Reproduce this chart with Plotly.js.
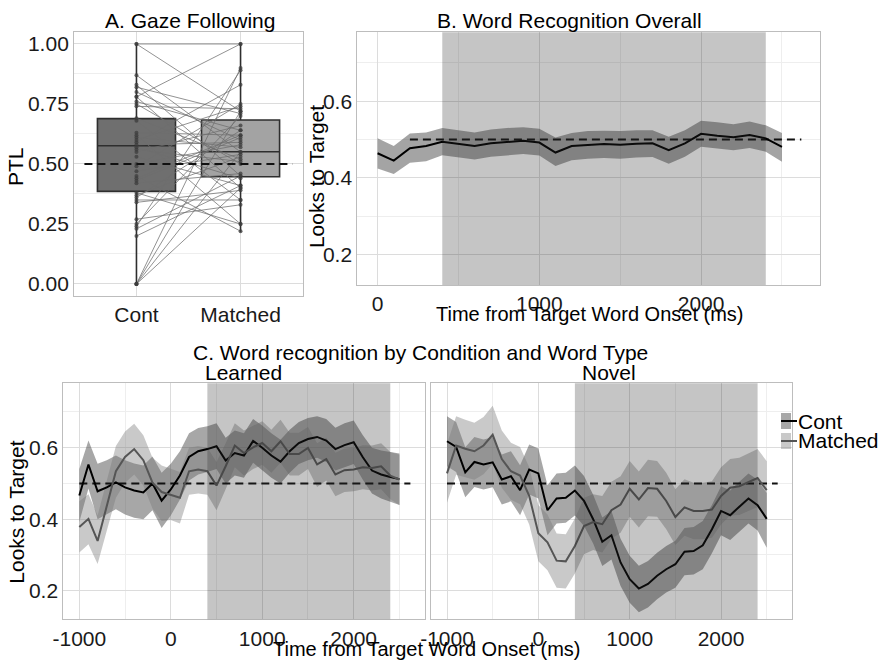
<!DOCTYPE html>
<html>
<head>
<meta charset="utf-8">
<script src="https://cdn.plot.ly/plotly-3.0.1.min.js"></script>
<style>html,body{margin:0;padding:0;background:#fff;}#chart{width:878px;height:662px;}</style>
</head>
<body>
<div id="chart"></div>
<script>
// ---------- Panel A: Gaze following (paired PTL per participant) ----------
const categories = ['Cont', 'Matched'];
const contPTL =    [1.00,1.00,0.78,0.87,0.83,0.82,0.80,0.78,0.76,0.75,0.74,0.69,0.68,0.63,0.62,0.61,0.59,0.58,0.57,0.55,0.53,0.50,0.49,0.47,0.45,0.43,0.42,0.38,0.37,0.35,0.34,0.27,0.25,0.24,0.23,0.20,0.00,0.00,0.00,0.00,0.60,0.56,0.36,0.44];
const matchedPTL = [1.00,0.72,1.00,0.55,0.45,0.71,0.60,0.40,0.64,0.50,0.73,0.52,0.35,0.62,0.25,0.57,0.83,0.59,0.44,0.66,0.41,0.58,0.75,0.54,0.22,0.61,0.46,0.25,0.53,0.35,0.39,0.33,0.70,0.89,0.45,0.41,0.90,0.72,0.55,0.40,0.74,0.51,0.64,0.62];
const boxQ1 = [0.386, 0.447];
const boxMedian = [0.576, 0.551];
const boxQ3 = [0.689, 0.683];
const boxLower = [0.00, 0.215];
const boxUpper = [1.00, 1.00];
const boxFill = ['#6f6f6f', '#a3a3a3'];

// ---------- Panel B: word recognition overall ----------
const timeB = [0,100,200,300,400,500,600,700,800,900,1000,1100,1200,1300,1400,1500,1600,1700,1800,1900,2000,2100,2200,2300,2400,2500];
const meanB =  [0.464,0.445,0.477,0.483,0.494,0.488,0.483,0.490,0.493,0.497,0.492,0.466,0.483,0.485,0.488,0.486,0.489,0.490,0.472,0.490,0.515,0.510,0.506,0.512,0.503,0.481];
const upperB = [0.503,0.483,0.516,0.518,0.530,0.523,0.518,0.526,0.530,0.532,0.528,0.505,0.517,0.522,0.523,0.522,0.524,0.524,0.507,0.524,0.549,0.545,0.540,0.547,0.537,0.517];
const lowerB = [0.424,0.410,0.439,0.443,0.459,0.453,0.448,0.455,0.459,0.462,0.458,0.431,0.446,0.450,0.452,0.450,0.453,0.454,0.437,0.455,0.481,0.477,0.472,0.478,0.468,0.442];

// ---------- Panel C: by condition and word type ----------
const timeC = [-1000,-900,-800,-700,-600,-500,-400,-300,-200,-100,0,100,200,300,400,500,600,700,800,900,1000,1100,1200,1300,1400,1500,1600,1700,1800,1900,2000,2100,2200,2300,2400,2500];
const learnedCont =      [0.466,0.553,0.478,0.489,0.503,0.489,0.480,0.475,0.500,0.452,0.483,0.522,0.574,0.590,0.596,0.604,0.564,0.585,0.578,0.619,0.600,0.578,0.561,0.590,0.613,0.624,0.630,0.620,0.596,0.607,0.615,0.573,0.536,0.525,0.518,0.512];
const learnedContUp =    [0.540,0.620,0.555,0.565,0.578,0.565,0.556,0.550,0.575,0.530,0.555,0.590,0.640,0.655,0.660,0.668,0.628,0.648,0.640,0.680,0.662,0.640,0.622,0.650,0.672,0.683,0.688,0.680,0.656,0.668,0.676,0.635,0.600,0.592,0.588,0.584];
const learnedContLo =    [0.392,0.486,0.400,0.413,0.428,0.413,0.404,0.400,0.425,0.375,0.410,0.455,0.508,0.525,0.532,0.540,0.500,0.522,0.516,0.558,0.538,0.516,0.500,0.530,0.554,0.565,0.572,0.560,0.536,0.546,0.554,0.510,0.472,0.458,0.448,0.440];
const learnedMatched =   [0.378,0.401,0.339,0.437,0.534,0.574,0.596,0.565,0.502,0.476,0.469,0.460,0.534,0.539,0.534,0.494,0.548,0.606,0.585,0.601,0.613,0.590,0.618,0.582,0.582,0.599,0.553,0.568,0.525,0.537,0.539,0.545,0.543,0.548,0.522,0.511];
const learnedMatchedUp = [0.450,0.470,0.410,0.510,0.605,0.645,0.667,0.635,0.572,0.550,0.540,0.532,0.600,0.605,0.600,0.560,0.612,0.668,0.648,0.662,0.674,0.650,0.678,0.642,0.642,0.658,0.612,0.628,0.586,0.598,0.600,0.607,0.606,0.612,0.588,0.580];
const learnedMatchedLo = [0.307,0.330,0.275,0.365,0.460,0.502,0.525,0.494,0.430,0.395,0.398,0.388,0.468,0.472,0.468,0.425,0.484,0.545,0.522,0.540,0.552,0.530,0.558,0.522,0.522,0.540,0.490,0.508,0.464,0.476,0.478,0.484,0.480,0.484,0.456,0.440];
const novelCont =        [0.618,0.602,0.531,0.560,0.553,0.559,0.511,0.520,0.481,0.539,0.528,0.425,0.458,0.460,0.480,0.451,0.400,0.337,0.355,0.279,0.232,0.206,0.219,0.242,0.260,0.274,0.309,0.311,0.327,0.372,0.423,0.411,0.435,0.458,0.439,0.401];
const novelContUp =      [0.688,0.672,0.601,0.630,0.623,0.629,0.581,0.590,0.551,0.609,0.598,0.495,0.528,0.530,0.550,0.521,0.468,0.405,0.423,0.345,0.298,0.270,0.283,0.306,0.325,0.340,0.375,0.378,0.395,0.440,0.492,0.480,0.505,0.528,0.510,0.473];
const novelContLo =      [0.548,0.532,0.461,0.490,0.483,0.489,0.441,0.450,0.411,0.469,0.458,0.355,0.388,0.390,0.410,0.381,0.332,0.269,0.287,0.213,0.166,0.140,0.153,0.176,0.195,0.208,0.243,0.245,0.260,0.305,0.355,0.342,0.365,0.388,0.368,0.320];
const novelMatched =     [0.528,0.606,0.597,0.590,0.606,0.636,0.568,0.534,0.522,0.465,0.361,0.335,0.284,0.282,0.325,0.381,0.392,0.386,0.425,0.441,0.485,0.455,0.487,0.485,0.451,0.406,0.433,0.423,0.423,0.427,0.465,0.488,0.492,0.504,0.515,0.481];
const novelMatchedUp =   [0.610,0.688,0.678,0.670,0.686,0.717,0.648,0.614,0.602,0.545,0.440,0.413,0.360,0.358,0.402,0.460,0.470,0.465,0.505,0.520,0.563,0.533,0.566,0.563,0.530,0.484,0.512,0.502,0.502,0.506,0.545,0.568,0.572,0.585,0.596,0.562];
const novelMatchedLo =   [0.446,0.524,0.516,0.510,0.526,0.555,0.488,0.454,0.442,0.385,0.282,0.257,0.208,0.206,0.248,0.302,0.314,0.307,0.345,0.362,0.407,0.377,0.408,0.407,0.372,0.328,0.354,0.344,0.344,0.348,0.385,0.410,0.412,0.423,0.434,0.400];

const chance = 0.5;
const chanceSpanB = [200, 2620];
const chanceSpanC = [-1000, 2620];
const analysisWindow = [400, 2400];

// ---------- styles ----------
const FONT = 'Liberation Sans, Arial, Helvetica, sans-serif';
const FS = 21;
const FS_AXIS_TITLE = 20;
const contRibbon = 'rgba(60,60,60,0.45)';
const matchedRibbon = 'rgba(120,120,120,0.40)';
const overallRibbon = 'rgba(90,90,90,0.55)';
const contLine = '#000000';
const matchedLine = '#555555';
const shadeFill = 'rgba(40,40,40,0.27)';
const gridMajor = '#dcdcdc';
const gridMinor = '#eeeeee';
const frame = '#bdbdbd';

function ribbon(t, lo, hi, color, xa, ya) {
  return {x: t.concat(t.slice().reverse()), y: hi.concat(lo.slice().reverse()),
    type: 'scatter', mode: 'lines', fill: 'toself', fillcolor: color,
    line: {width: 0}, hoverinfo: 'skip', showlegend: false, xaxis: xa, yaxis: ya};
}
function line(t, v, color, xa, ya, w, dash) {
  return {x: t, y: v, type: 'scatter', mode: 'lines',
    line: {color: color, width: w || 2, dash: dash || 'solid'},
    hoverinfo: 'skip', showlegend: false, xaxis: xa, yaxis: ya};
}

const traces = [];
// Panel A boxes
categories.forEach((c, i) => {
  traces.push({type: 'box', x: [c], q1: [boxQ1[i]], median: [boxMedian[i]], q3: [boxQ3[i]],
    lowerfence: [boxLower[i]], upperfence: [boxUpper[i]], boxpoints: false,
    fillcolor: boxFill[i], line: {color: '#2e2e2e', width: 1.6}, whiskerwidth: 0,
    width: 0.75, xaxis: 'x', yaxis: 'y', showlegend: false, hoverinfo: 'skip'});
});
// Panel A paired lines
const px = [], py = [];
contPTL.forEach((v, i) => { px.push(categories[0], categories[1], null); py.push(v, matchedPTL[i], null); });
traces.push({type: 'scatter', mode: 'lines+markers', x: px, y: py, connectgaps: false,
  line: {color: 'rgba(110,110,110,0.75)', width: 1}, marker: {size: 4, color: 'rgba(60,60,60,0.75)'},
  xaxis: 'x', yaxis: 'y', showlegend: false, hoverinfo: 'skip'});

// Panel B
traces.push(ribbon(timeB, lowerB, upperB, overallRibbon, 'x2', 'y2'));
traces.push(line(chanceSpanB, [chance, chance], '#111', 'x2', 'y2', 2, '8px,5px'));
traces.push(line(timeB, meanB, contLine, 'x2', 'y2', 2));

// Panel C learned
traces.push(ribbon(timeC, learnedContLo, learnedContUp, contRibbon, 'x3', 'y3'));
traces.push(ribbon(timeC, learnedMatchedLo, learnedMatchedUp, matchedRibbon, 'x3', 'y3'));
traces.push(line(chanceSpanC, [chance, chance], '#111', 'x3', 'y3', 2, '8px,5px'));
traces.push(line(timeC, learnedCont, contLine, 'x3', 'y3', 2));
traces.push(line(timeC, learnedMatched, matchedLine, 'x3', 'y3', 2));
// Panel C novel
traces.push(ribbon(timeC, novelContLo, novelContUp, contRibbon, 'x4', 'y4'));
traces.push(ribbon(timeC, novelMatchedLo, novelMatchedUp, matchedRibbon, 'x4', 'y4'));
traces.push(line(chanceSpanC, [chance, chance], '#111', 'x4', 'y4', 2, '8px,5px'));
traces.push(line(timeC, novelCont, contLine, 'x4', 'y4', 2));
traces.push(line(timeC, novelMatched, matchedLine, 'x4', 'y4', 2));

const baseAxis = {showgrid: true, gridcolor: gridMajor, gridwidth: 1, zeroline: false,
  showline: true, mirror: true, linecolor: frame, linewidth: 1, ticks: '',
  tickfont: {family: FONT, size: FS, color: '#1a1a1a'}, fixedrange: true};
const timeTicks = [-1000, 0, 1000, 2000];
const timeText = ['-1000', '0', '1000', '2000'];

const layout = {
  width: 878, height: 662, margin: {l: 0, r: 0, t: 0, b: 0},
  paper_bgcolor: '#ffffff', plot_bgcolor: '#ffffff', showlegend: false,
  font: {family: FONT, size: FS, color: '#000'},
  xaxis: Object.assign({}, baseAxis, {domain: [0.0843, 0.3451], anchor: 'y', type: 'category',
    categoryarray: categories, range: [-0.6, 1.6]}),
  yaxis: Object.assign({}, baseAxis, {domain: [0.5529, 0.9517], anchor: 'x', range: [-0.05, 1.05],
    tick0: 0, dtick: 0.25, tickformat: '.2f',
    minor: {tick0: 0, dtick: 0.125, showgrid: true, gridcolor: gridMinor, ticks: ''}}),
  xaxis2: Object.assign({}, baseAxis, {domain: [0.4070, 0.9339], anchor: 'y2', range: [-125, 2735],
    tick0: 0, dtick: 1000,
    minor: {tick0: 0, dtick: 500, showgrid: true, gridcolor: gridMinor, ticks: ''}}),
  yaxis2: Object.assign({}, baseAxis, {domain: [0.5695, 0.9512], anchor: 'x2', range: [0.12, 0.78],
    tick0: 0, dtick: 0.2, minor: {tick0: 0, dtick: 0.1, showgrid: true, gridcolor: gridMinor, ticks: ''}}),
  xaxis3: Object.assign({}, baseAxis, {domain: [0.0721, 0.4841], anchor: 'y3', range: [-1175, 2780],
    tickmode: 'array', tickvals: timeTicks, ticktext: timeText,
    minor: {tick0: 0, dtick: 500, showgrid: true, gridcolor: gridMinor, ticks: ''}}),
  yaxis3: Object.assign({}, baseAxis, {domain: [0.0645, 0.4210], anchor: 'x3', range: [0.12, 0.78],
    tick0: 0, dtick: 0.2, minor: {tick0: 0, dtick: 0.1, showgrid: true, gridcolor: gridMinor, ticks: ''}}),
  xaxis4: Object.assign({}, baseAxis, {domain: [0.4909, 0.9024], anchor: 'y4', range: [-1175, 2780],
    tickmode: 'array', tickvals: timeTicks, ticktext: timeText,
    minor: {tick0: 0, dtick: 500, showgrid: true, gridcolor: gridMinor, ticks: ''}}),
  yaxis4: Object.assign({}, baseAxis, {domain: [0.0645, 0.4210], anchor: 'x4', range: [0.12, 0.78],
    tick0: 0, dtick: 0.2, showticklabels: false,
    minor: {tick0: 0, dtick: 0.1, showgrid: true, gridcolor: gridMinor, ticks: ''}}),
  shapes: [
    {type: 'rect', xref: 'x2', yref: 'y2 domain', x0: analysisWindow[0], x1: analysisWindow[1], y0: 0, y1: 1,
     fillcolor: shadeFill, line: {width: 0}, layer: 'above'},
    {type: 'rect', xref: 'x3', yref: 'y3 domain', x0: analysisWindow[0], x1: analysisWindow[1], y0: 0, y1: 1,
     fillcolor: shadeFill, line: {width: 0}, layer: 'above'},
    {type: 'rect', xref: 'x4', yref: 'y4 domain', x0: analysisWindow[0], x1: analysisWindow[1], y0: 0, y1: 1,
     fillcolor: shadeFill, line: {width: 0}, layer: 'above'},
    {type: 'line', xref: 'x', yref: 'y', x0: -0.5, x1: 1.5, y0: chance, y1: chance,
     line: {color: '#111', width: 2, dash: '8px,5px'}, layer: 'above'},
    // legend keys
    {type: 'rect', xref: 'paper', yref: 'paper', x0: 781/878, x1: 791/878, y0: 1-429/662, y1: 1-413/662,
     fillcolor: contRibbon, line: {width: 0}, layer: 'above'},
    {type: 'line', xref: 'paper', yref: 'paper', x0: 781/878, x1: 797/878, y0: 1-421/662, y1: 1-421/662,
     line: {color: contLine, width: 2}, layer: 'above'},
    {type: 'rect', xref: 'paper', yref: 'paper', x0: 781/878, x1: 791/878, y0: 1-449/662, y1: 1-433/662,
     fillcolor: matchedRibbon, line: {width: 0}, layer: 'above'},
    {type: 'line', xref: 'paper', yref: 'paper', x0: 781/878, x1: 797/878, y0: 1-441/662, y1: 1-441/662,
     line: {color: matchedLine, width: 2}, layer: 'above'}
  ],
  annotations: [
    {text: 'A. Gaze Following', x: 0.2161, y: 0.9683},
    {text: 'B. Word Recognition Overall', x: 0.6492, y: 0.9683},
    {text: 'C. Word recognition by Condition and Word Type', x: 0.4784, y: 0.4668},
    {text: 'Learned', x: 0.2773, y: 0.4366},
    {text: 'Novel', x: 0.6936, y: 0.4366},
    {text: 'Time from Target Word Onset (ms)', x: 0.6715, y: 1-314/662, font: {family: FONT, size: FS_AXIS_TITLE, color: '#000'}},
    {text: 'Time from Target Word Onset (ms)', x: 0.4863, y: 1-649/662, font: {family: FONT, size: FS_AXIS_TITLE, color: '#000'}},
    {text: 'PTL', x: 0.0171, y: 0.7477, textangle: -90},
    {text: 'Looks to Target', x: 0.3600, y: 0.7326, textangle: -90},
    {text: 'Looks to Target', x: 0.0190, y: 0.2266, textangle: -90},
    {text: 'Cont', x: 796/878, y: 1-421.7/662, xanchor: 'left'},
    {text: 'Matched', x: 796/878, y: 1-440/662, xanchor: 'left'}
  ].map(a => Object.assign({xref: 'paper', yref: 'paper', showarrow: false, xanchor: 'center',
    yanchor: 'middle', font: {family: FONT, size: FS, color: '#000'}}, a))
};

Plotly.newPlot('chart', traces, layout, {staticPlot: true, displayModeBar: false});
</script>
</body>
</html>
